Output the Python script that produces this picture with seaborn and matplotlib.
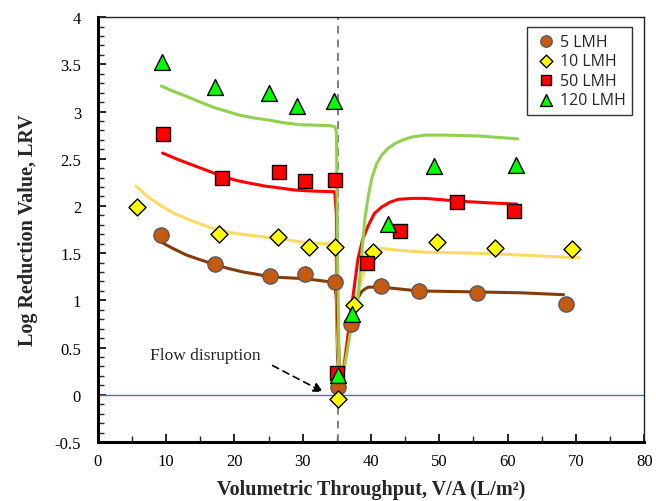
import numpy as np
import pandas as pd
import matplotlib
matplotlib.use("Agg")
import matplotlib.pyplot as plt
import seaborn as sns
from matplotlib.ticker import MultipleLocator

# ---- measured data ----
x_5 = [9.2, 17.2, 25.2, 30.4, 34.8, 35.2, 37.1, 41.4, 47.0, 55.5, 68.6]
y_5 = [1.69, 1.38, 1.26, 1.28, 1.19, 0.08, 0.75, 1.15, 1.10, 1.08, 0.96]
x_10 = [5.7, 17.8, 26.4, 31.0, 34.7, 35.2, 37.5, 40.3, 49.6, 58.1, 69.4]
y_10 = [1.99, 1.70, 1.67, 1.57, 1.56, -0.04, 0.95, 1.51, 1.62, 1.55, 1.54]
x_50 = [9.6, 18.2, 26.5, 30.3, 34.7, 35.1, 39.4, 44.2, 52.6, 61.0]
y_50 = [2.76, 2.30, 2.36, 2.26, 2.27, 0.23, 1.40, 1.73, 2.04, 1.95]
x_120 = [9.4, 17.2, 25.0, 29.2, 34.6, 35.2, 37.2, 42.5, 49.3, 61.3]
y_120 = [3.52, 3.26, 3.20, 3.06, 3.11, 0.21, 0.86, 1.81, 2.42, 2.43]

# ---- model curves ----
mx_5 = [9.2, 11, 13, 15, 17.1, 19, 21.3, 23, 25.2, 27.5, 30.3, 32.5, 34.7, 34.95, 35.1, 35.4,
        36.0, 36.6, 37.2, 37.9, 38.6, 39.1, 39.6, 41.6, 46.9, 55, 62, 68.2]
my_5 = [1.62, 1.55, 1.48, 1.43, 1.38, 1.34, 1.30, 1.28, 1.25, 1.24, 1.23, 1.21, 1.19, 1.0, 0.4, 0.12,
        0.3, 0.58, 0.84, 1.00, 1.09, 1.12, 1.14, 1.14, 1.10, 1.09, 1.08, 1.06]
mx_10 = [5.6, 7.3, 9.1, 11.2, 13.5, 15.7, 17.9, 20, 22.3, 24.5, 26.7, 28.7, 30.6, 32.5, 34.5, 34.95,
         35.1, 35.4, 36.0, 36.8, 37.5, 38.1, 38.8, 39.6, 40.3, 41.0, 41.6, 44, 47.9, 55, 62, 70.5]
my_10 = [2.21, 2.10, 2.01, 1.92, 1.85, 1.79, 1.74, 1.71, 1.69, 1.67, 1.65, 1.63, 1.61, 1.60, 1.60, 1.4,
         0.6, 0.1, 0.35, 0.68, 0.92, 1.09, 1.26, 1.42, 1.51, 1.54, 1.55, 1.53, 1.51, 1.50, 1.48, 1.45]
mx_50 = [9.5, 11.8, 14.0, 16.2, 18.4, 20.3, 22.3, 24.5, 26.7, 28.6, 30.6, 32.6, 34.7, 34.95, 35.1,
         35.5, 35.9, 36.5, 37.2, 38.1, 38.8, 39.6, 40.5, 41.6, 42.8, 44.0, 46, 47.9, 53, 58, 61.3]
my_50 = [2.56, 2.49, 2.43, 2.37, 2.31, 2.27, 2.24, 2.21, 2.19, 2.17, 2.16, 2.155, 2.15, 1.9, 0.8,
         0.12, 0.2, 0.55, 0.95, 1.44, 1.65, 1.79, 1.92, 1.99, 2.04, 2.07, 2.08, 2.08, 2.05, 2.03, 2.02]
mx_120 = [9.3, 11.2, 13.0, 15.0, 17.1, 19.0, 20.8, 23.0, 25.0, 27.3, 29.6, 32.0, 34.0, 34.7, 34.95,
          35.1, 35.4, 35.8, 36.5, 37.2, 38.1, 38.6, 39.1, 39.6, 40.1, 40.8, 41.6, 42.5, 43.5, 44.7,
          46.0, 47.9, 51, 56, 61.5]
my_120 = [3.27, 3.21, 3.16, 3.10, 3.04, 3.00, 2.96, 2.93, 2.91, 2.88, 2.86, 2.855, 2.85, 2.84, 2.78,
          1.5, 0.12, 0.17, 0.45, 0.75, 1.02, 1.45, 1.86, 2.10, 2.29, 2.44, 2.54, 2.61, 2.66, 2.70,
          2.73, 2.75, 2.75, 2.74, 2.71]

labels = ["5 LMH", "10 LMH", "50 LMH", "120 LMH"]
x_ticks = [0, 10, 20, 30, 40, 50, 60, 70, 80]
y_ticks = [-0.5, 0, 0.5, 1, 1.5, 2, 2.5, 3, 3.5, 4]
disruption_x = 35.2

sns.set_style("ticks")
plt.rcParams['font.family'] = ['Liberation Serif', 'DejaVu Serif']

fig = plt.figure(figsize=(6.56, 5.02), dpi=100)
ax = fig.add_axes([0.149, 0.1175, 0.833, 0.8465])

# reference lines
ax.axhline(0, color="#4472C4", lw=1.0, zorder=1)
ax.axvline(disruption_x, color="#808080", lw=1.4, ls=(0, (4, 3)), zorder=1)

model = [(mx_5, my_5, "#843C0C"), (mx_10, my_10, "#FFD966"),
         (mx_50, my_50, "#FF0000"), (mx_120, my_120, "#92D050")]
for mx, my, c in model:
    sns.lineplot(x=mx, y=my, ax=ax, color=c, lw=2.2, sort=False,
                 estimator=None, zorder=2, legend=False,
                 solid_joinstyle="round", solid_capstyle="round")

pts = [(x_5, y_5, "o", "#C55A11", "#595959", 120),
       (x_10, y_10, "D", "#FFFF00", "#000000", 75),
       (x_50, y_50, "s", "#FF0000", "#000000", 95),
       (x_120, y_120, "^", "#00FF00", "#000000", 130)]
for (xx, yy, m, fc, ec, s), lab in zip(pts, labels):
    sns.scatterplot(x=xx, y=yy, ax=ax, marker=m, color=fc, edgecolor=ec,
                    linewidth=1.0, s=s, label=lab, zorder=3)

ax.set_xlim(0, 80)
ax.set_ylim(-0.5, 4)
ax.set_xticks(x_ticks)
ax.set_yticks(y_ticks)
ax.set_yticklabels([f"{v:g}" for v in y_ticks])
ax.xaxis.set_minor_locator(MultipleLocator(5))
ax.yaxis.set_minor_locator(MultipleLocator(0.1))
ax.tick_params(axis="both", which="major", direction="in", length=6, width=1.2,
               labelsize=12, pad=8, colors="black")
ax.tick_params(axis="both", which="minor", direction="in", length=4, width=1.0)
ax.tick_params(axis="y", pad=12)

for side in ["left", "bottom"]:
    ax.spines[side].set_linewidth(2.2)
    ax.spines[side].set_color("black")
for side in ["top", "right"]:
    ax.spines[side].set_linewidth(1.0)
    ax.spines[side].set_color("#222222")

ax.set_xlabel("Volumetric Throughput, V/A (L/m²)", fontsize=14.5, fontweight="bold", labelpad=7)
ax.set_ylabel("Log Reduction Value, LRV", fontsize=14.5, fontweight="bold", labelpad=12)

ax.text(7.7, 0.42, "Flow disruption", fontsize=12.5, va="center", ha="left")
ax.annotate("", xy=(33.0, 0.03), xytext=(25.6, 0.31),
            arrowprops=dict(arrowstyle="-|>", color="black", lw=1.2, ls=(0, (4, 3)),
                            shrinkA=0, shrinkB=0, mutation_scale=14))

leg = ax.legend(loc="upper right", bbox_to_anchor=(0.978, 0.976), frameon=True,
                fancybox=False, edgecolor="black", markerscale=0.75,
                prop={"family": "Open Sans", "size": 11.5}, handletextpad=0.15,
                borderpad=0.4, labelspacing=0.22, handlelength=1.5, borderaxespad=0)
leg.get_frame().set_linewidth(1.0)

fig.savefig("out.png", dpi=100)
